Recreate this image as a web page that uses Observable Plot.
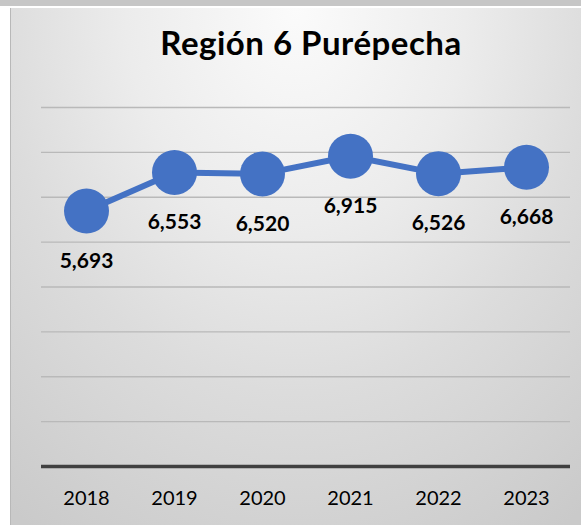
<!DOCTYPE html>
<html>
<head>
<meta charset="utf-8">
<script src="https://cdn.jsdelivr.net/npm/d3@7"></script>
<script src="https://cdn.jsdelivr.net/npm/@observablehq/plot@0.6"></script>
<style>
  html, body { margin: 0; padding: 0; background: #ffffff; }
  #wrap { position: relative; width: 581px; height: 525px; overflow: hidden; font-family: Lato, "Open Sans", sans-serif; }
  #topband { position: absolute; left: 0; top: 0; width: 581px; height: 6px; background: #c6c6c6; }
  #panel { position: absolute; left: 10px; top: 8px; width: 570px; height: 517px;
           border-left: 1.5px solid #b8b8b8;
           background: radial-gradient(ellipse 85% 120% at 50% 0%, #fbfbfb 0%, #ececec 35%, #dcdcdc 62%, #cacaca 100%); }
  #title { position: absolute; left: 0; top: 26px; width: 622px; text-align: center;
           font: bold 33px Lato, "Open Sans", sans-serif; line-height: 33px; letter-spacing: 0.5px; color: #000; }
  #chart { position: absolute; left: 0; top: 0; }
</style>
</head>
<body>
<div id="wrap">
  <div id="topband"></div>
  <div id="panel"></div>
  <div id="title">Región 6 Purépecha</div>
  <div id="chart"></div>
</div>
<script>
const years = ["2018", "2019", "2020", "2021", "2022", "2023"];
const values = [5693, 6553, 6520, 6915, 6526, 6668];
const gridTicks = [1000, 2000, 3000, 4000, 5000, 6000, 7000, 8000];

const data = years.map((y, i) => ({year: y, value: values[i]}));
const fmt = d3.format(",");

const plot = Plot.plot({
  width: 581,
  height: 525,
  marginLeft: 41,
  marginRight: 11,
  marginTop: 107,
  marginBottom: 59,
  style: {background: "transparent", fontFamily: "Lato, 'Open Sans', sans-serif", overflow: "visible"},
  x: {type: "point", domain: years, padding: 0.5, align: 0.5, label: null},
  y: {domain: [0, 8000], axis: null},
  marks: [
    Plot.ruleY(gridTicks, {stroke: "#b9b9b9", strokeWidth: 1.4}),
    Plot.ruleY([0], {stroke: "#404040", strokeWidth: 3.5}),
    Plot.axisX({tickSize: 0, tickPadding: 24, fontSize: 20, fill: "#000", label: null}),
    Plot.line(data, {x: "year", y: "value", stroke: "#4472C4", strokeWidth: 6}),
    Plot.dot(data, {x: "year", y: "value", r: 22.5, fill: "#4472C4", stroke: "none"}),
    Plot.text(data, {x: "year", y: "value", text: d => fmt(d.value), dy: 50,
      fontSize: 21, fontWeight: "bold", fill: "#000"})
  ]
});
document.getElementById("chart").appendChild(plot);
</script>
</body>
</html>
